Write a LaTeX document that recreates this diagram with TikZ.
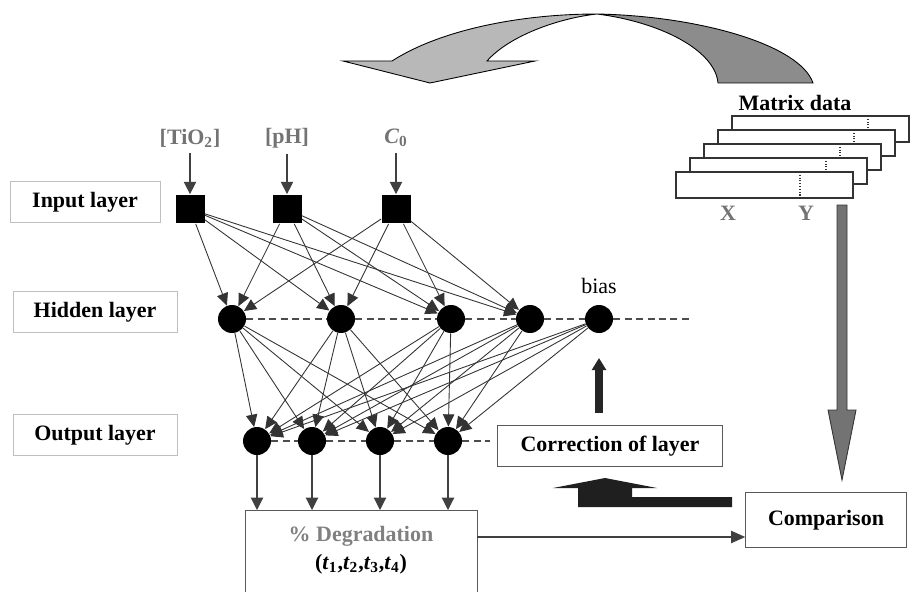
\documentclass[tikz,border=0pt]{standalone}
\usepackage{fontspec}
\setmainfont{Liberation Serif}
\usetikzlibrary{arrows.meta,positioning}

\begin{document}
\begin{tikzpicture}[x=0.02cm,y=-0.02cm,
font=\fontsize{12.5}{14}\selectfont,
lbox/.style={draw=black!25,rectangle,minimum height=0.82cm,font=\fontsize{12.5}{14}\selectfont\bfseries},
box/.style={draw=black!65,rectangle,font=\fontsize{12.5}{14}\selectfont\bfseries},
unit/.style={fill=black,rectangle,minimum size=0.58cm,inner sep=0pt},
neuron/.style={fill=black,circle,minimum size=0.56cm,inner sep=0pt},
invar/.style={text=black!55,font=\fontsize{12.5}{14}\selectfont\bfseries},
wire/.style={draw=black!80,line width=0.5pt,-{Triangle[length=7pt,width=6.5pt]}},
feed/.style={draw=black!75,line width=0.6pt,-{Triangle[length=7pt,width=7pt]}},
dashline/.style={draw=black!70,line width=0.9pt,dash pattern=on 4pt off 2.5pt}]
\clip (0,0) rectangle (911,591);

% curved arrow on top
\fill[black!28,draw=black,line width=0.5pt] (343,61) -- (392,61)
  .. controls (440,30) and (520,14) .. (597,14)
  .. controls (560,18) and (510,35) .. (487,61) -- (535,61) -- (430,83) -- cycle;
\fill[black!45,draw=black,line width=0.5pt] (597,14)
  .. controls (700,16) and (800,45) .. (813,83) -- (718,83)
  .. controls (715,50) and (660,22) .. (597,14) -- cycle;

% layer labels
\node (lblIn) [lbox,minimum width=3.0cm] at (85,202) {Input layer};
\node (lblHid) [lbox,minimum width=3.28cm] at (95,312) {Hidden layer};
\node (lblOut) [lbox,minimum width=3.28cm] at (95,435) {Output layer};

% input units
\node (iTio) [unit] at (190,209) {};
\node (iPh) [unit] at (287,209) {};
\node (iC) [unit] at (396,209) {};
\node (tTio) [invar] at (190,138) {[TiO\textsubscript{2}]};
\node (tPh) [invar] at (287,138) {[pH]};
\node (tC) [invar] at (396,138) {\textit{C}\textsubscript{0}};
\draw[feed] (tTio) -- (iTio);
\draw[feed] (tPh) -- (iPh);
\draw[feed] (tC) -- (iC);

% hidden layer
\node (h1) [neuron] at (232,319) {};
\node (h2) [neuron] at (341,319) {};
\node (h3) [neuron] at (451,319) {};
\node (h4) [neuron] at (530,319) {};
\node (bias) [neuron] at (599,319) {};
\node (biasTxt) [above=0.1cm of bias] {bias};
\coordinate (hidEnd) at (692,319);
\draw[dashline] (h1) -- (h2) -- (h3) -- (h4) -- (bias) -- (hidEnd);

% output layer
\node (o1) [neuron] at (257,441) {};
\node (o2) [neuron] at (312,441) {};
\node (o3) [neuron] at (380,441) {};
\node (o4) [neuron] at (448,441) {};
\coordinate (outEnd) at (490,441);
\draw[dashline] (o1) -- (o2) -- (o3) -- (o4) -- (outEnd);

\foreach \s in {iTio,iPh,iC}
  \foreach \t in {h1,h2,h3,h4}
    \draw[wire] (\s) -- (\t);
\foreach \s in {h1,h2,h3,h4,bias}
  \foreach \t in {o1,o2,o3,o4}
    \draw[wire] (\s) -- (\t);

% result and comparison
\node (degr) [box,anchor=north,minimum width=4.64cm,minimum height=2cm] at (361,510) {};
\node (degrTxt) [align=center,font=\fontsize{12.5}{15}\selectfont\bfseries] at (361,550)
  {\textcolor{black!50}{\% Degradation}\\[1pt]
   (\textit{t}\textsubscript{1},\textit{t}\textsubscript{2},\textit{t}\textsubscript{3},\textit{t}\textsubscript{4})};
\foreach \o in {o1,o2,o3,o4}
  \draw[feed] (\o) -- (\o |- degr.north);

\node (comp) [box,minimum width=3.22cm,minimum height=1.1cm] at (826,520) {Comparison};
\node (corr) [box,minimum width=4.5cm,minimum height=0.82cm] at (610,446) {Correction of layer};
\draw[draw=black!75,line width=0.6pt,-{Triangle[length=8pt,width=7pt]}]
  ([yshift=-0.54cm]degr.north east) -- ([yshift=-0.54cm]degr.north east -| comp.west);

% correction arrows
\draw[draw=black!85,line width=4pt,-{Triangle[length=7pt,width=8pt]},
  shorten <=7pt,shorten >=14pt] (corr.north -| bias) -- (bias.south);
\fill[black!88] (732,497) -- (632,497) -- (632,488) -- (657,488) -- (605,478)
  -- (553,488) -- (578,488) -- (578,507) -- (732,507) -- cycle;

% matrix data
\node (mdata) [font=\fontsize{12.5}{14}\selectfont\bfseries] at (795,103) {Matrix data};
\foreach \k/\d in {4/136,3/136,2/136,1/136,0/124}
{
  \filldraw[fill=white,draw=black!80,line width=0.6pt]
    (676+14*\k,172-14*\k) rectangle (853+14*\k,198-14*\k);
  \draw[black!80,line width=0.6pt,densely dotted] (676+14*\k+\d,172-14*\k) -- (676+14*\k+\d,198-14*\k);
}
\node (tX) [invar] at (728,213) {X};
\node (tY) [invar] at (806,213) {Y};

% arrow down to comparison
\filldraw[fill=black!55,draw=black!80,line width=0.5pt] (837,205) -- (847,205) -- (847,410)
  -- (856,410) -- (842,480) -- (828,410) -- (837,410) -- cycle;
\end{tikzpicture}
\end{document}
